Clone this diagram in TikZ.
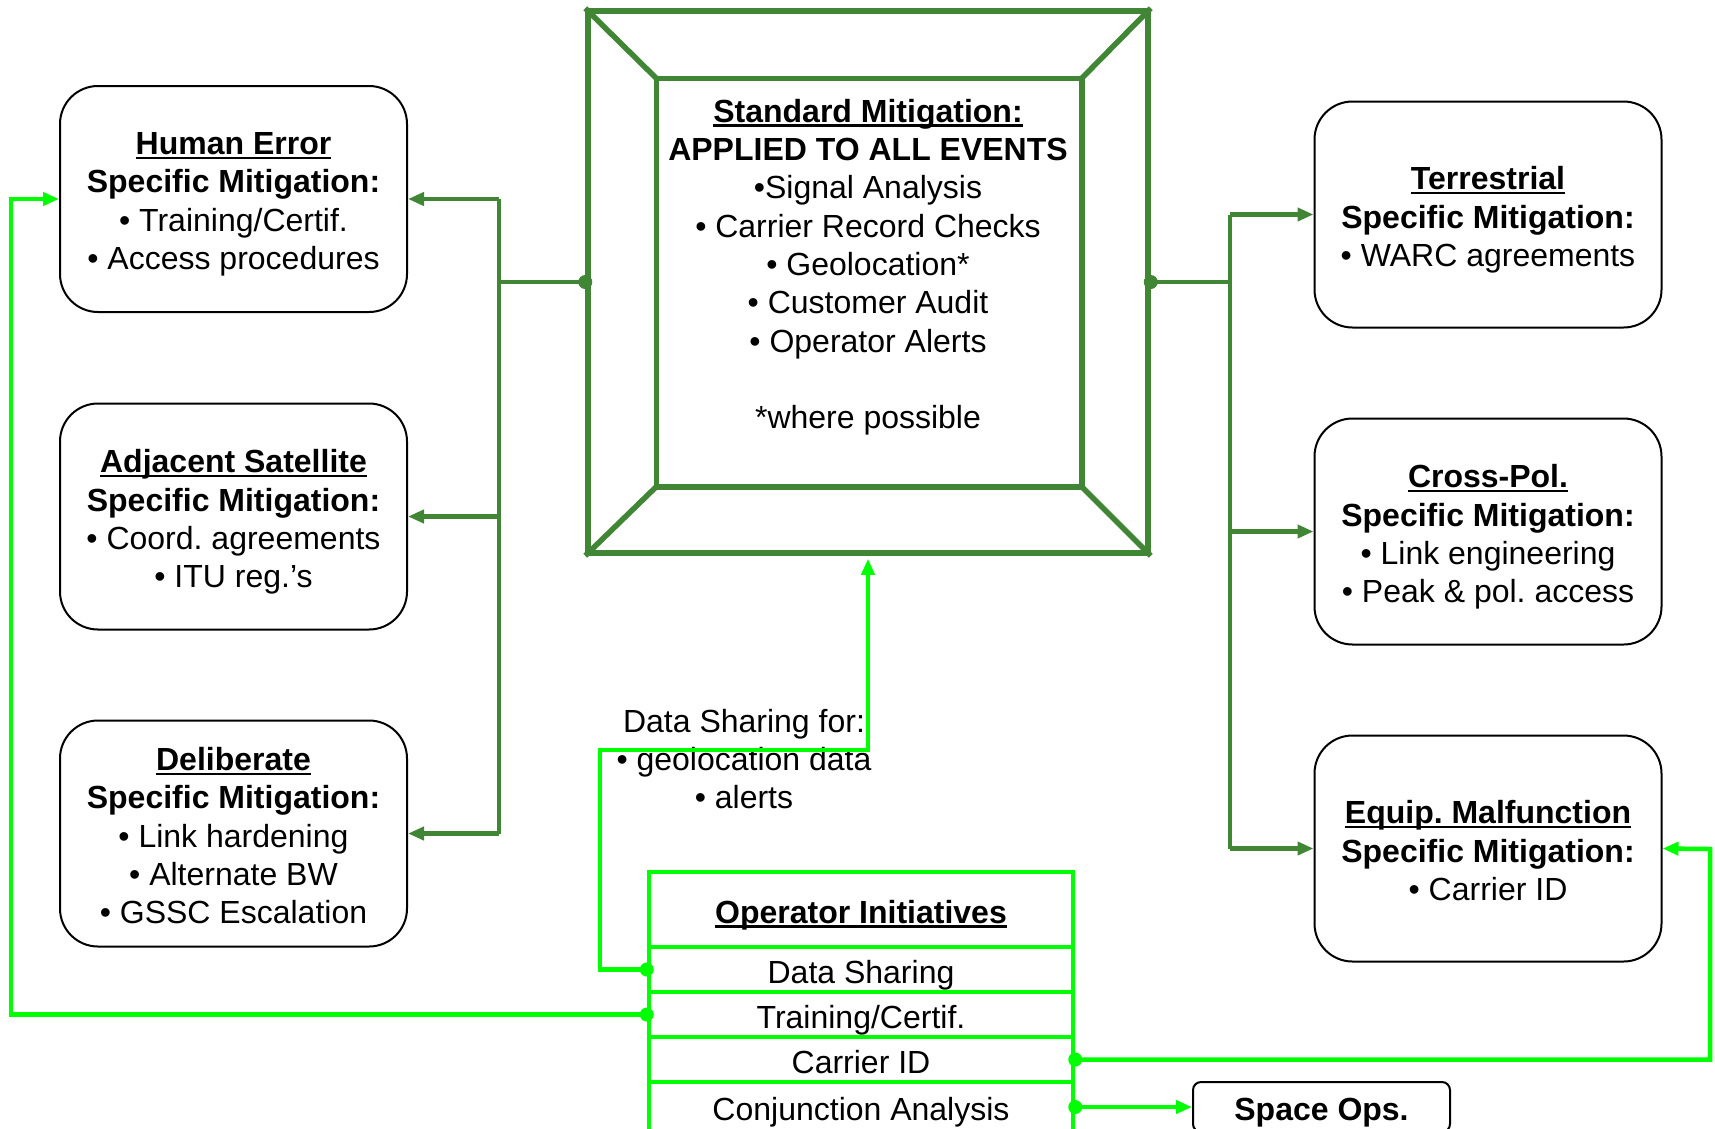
\documentclass[tikz,border=0pt]{standalone}
\usepackage{fontspec}
\setmainfont{Liberation Sans}
\usetikzlibrary{arrows.meta,calc}
\definecolor{dkg}{RGB}{64,134,52}
\definecolor{brg}{RGB}{0,255,0}
\frenchspacing
\newcommand\hdr[1]{\setbox0\hbox{#1}\rlap{\raisebox{-4.5pt}{\rule{\wd0}{2.6pt}}}\box0}
\newcommand\dpfix{\rule[-9pt]{0pt}{9pt}}
\tikzset{
  txtfont/.style={font=\fontsize{32}{38.3}\selectfont},
  mitbox/.style={draw=black, line width=2pt, rounded corners=38pt, minimum width=347pt,
    minimum height=226pt, inner sep=0pt},
  plain/.style={align=center, inner sep=0pt, txtfont},
  mittext/.style={plain, yshift=-6.6pt},
  onerow/.style={text height=27pt, text depth=0pt},
  oirow/.style={draw=brg, line width=4.5pt, minimum width=424pt, inner sep=0pt, txtfont, onerow},
  dkline/.style={draw=dkg, line width=4.5pt},
  dkarrow/.style={draw=dkg, line width=4.5pt, -{Triangle[length=16pt,width=13pt]}},
  brline/.style={draw=brg, line width=4.5pt},
  brarrow/.style={draw=brg, line width=4.5pt, -{Triangle[length=16pt,width=13pt]}},
  dkdot/.style={fill=dkg},
  brdot/.style={fill=brg},
}
\begin{document}
\begin{tikzpicture}[x=1pt,y=-1pt]
\useasboundingbox (0,0) rectangle (1715,1128);

% central standard mitigation frame
\node[draw=dkg, line width=5.5pt, minimum width=560pt, minimum height=542pt, inner sep=0pt] (std) at (868,282) {};
\coordinate (iTL) at ($(std.north west)+(71,70)$);
\coordinate (iTR) at ($(std.north east)+(-69,70)$);
\coordinate (iBL) at ($(std.south west)+(71,-69)$);
\coordinate (iBR) at ($(std.south east)+(-69,-69)$);
\draw[draw=dkg, line width=5.5pt, line join=miter] (iTL) rectangle (iBR);
\draw[draw=dkg, line width=5.5pt] (std.north west) -- (iTL) (std.north east) -- (iTR)
  (std.south west) -- (iBL) (std.south east) -- (iBR);
\node[plain, yshift=-5.2pt] (stdtxt) at (868,262) {\textbf{\hdr{Standard Mitigation:}}\\ \textbf{APPLIED TO ALL EVENTS}\\ •Signal Analysis\\ • Carrier Record Checks\\ • Geolocation*\\ • Customer Audit\\ • Operator Alerts\\[38.3pt] *where possible};

% left boxes
\node[mitbox] (he) at (233.5,199) {};
\node[mittext] (hetxt) at (he.center) {\textbf{\hdr{Human Error}}\\ \textbf{Specific Mitigation:}\\ • Training/Certif.\\ • Access procedures\dpfix};
\node[mitbox] (adj) at (233.5,516.5) {};
\node[mittext] (adjtxt) at (adj.center) {\textbf{\hdr{Adjacent Satellite}}\\ \textbf{Specific Mitigation:}\\ • Coord. agreements\\ • ITU reg.’s\dpfix};
\node[mitbox] (del) at (233.5,833.5) {};
\node[mittext] (deltxt) at (del.center) {\textbf{\hdr{Deliberate}}\\ \textbf{Specific Mitigation:}\\ • Link hardening\\ • Alternate BW\\ • GSSC Escalation\dpfix};

% right boxes
\node[mitbox] (ter) at (1488,214.5) {};
\node[mittext] (tertxt) at (ter.center) {\textbf{\hdr{Terrestrial}}\\ \textbf{Specific Mitigation:}\\ • WARC agreements\dpfix};
\node[mitbox] (xp) at (1488,531.5) {};
\node[mittext] (xptxt) at (xp.center) {\textbf{\hdr{Cross-Pol.}}\\ \textbf{Specific Mitigation:}\\ • Link engineering\\ • Peak \& pol. access\dpfix};
\node[mitbox] (eq) at (1488,848.5) {};
\node[mittext] (eqtxt) at (eq.center) {\textbf{\hdr{Equip. Malfunction}}\\ \textbf{Specific Mitigation:}\\ • Carrier ID\dpfix};

% operator initiatives table
\node[oirow, minimum height=75pt] (oih) at (861,909.5) {\textbf{\hdr{Operator Initiatives}}};
\node[oirow, minimum height=45pt] (ds) at (861,969.5) {Data Sharing};
\node[oirow, minimum height=45pt] (tr) at (861,1014.5) {Training/Certif.};
\node[oirow, minimum height=45pt] (cid) at (861,1059.5) {Carrier ID};
\node[oirow, minimum height=50pt] (ca) at (861,1107) {Conjunction Analysis};

% space ops
\node[draw=black, line width=2pt, rounded corners=8pt, minimum width=257pt, minimum height=50pt, inner sep=0pt, txtfont, onerow] (sops) at (1321.5,1107) {\textbf{Space Ops.}};

% dark green connectors
\coordinate (lbus) at (499,0);
\coordinate (rbus) at (1230,0);
\draw[dkline] (std.west) -- (std.west -| lbus);
\draw[dkline] (lbus |- he.east) -- (lbus |- del.east);
\draw[dkarrow] (lbus |- he.east) -- (he.east);
\draw[dkarrow] (lbus |- adj.east) -- (adj.east);
\draw[dkarrow] (lbus |- del.east) -- (del.east);
\draw[dkline] (std.east) -- (std.east -| rbus);
\draw[dkline] (rbus |- ter.west) -- (rbus |- eq.west);
\draw[dkarrow] (rbus |- ter.west) -- (ter.west);
\draw[dkarrow] (rbus |- xp.west) -- (xp.west);
\draw[dkarrow] (rbus |- eq.west) -- (eq.west);
\fill[dkdot] (std.west) circle (7);
\fill[dkdot] (std.east) circle (7);

% data sharing label
\node[plain] (dslab) at (744,759) {Data Sharing for:\\ • geolocation data\\ • alerts};

% bright green connectors
\coordinate (dsA) at (600,750);
\coordinate (trA) at (11,199);
\coordinate (cidA) at (1710,849);
\draw[brarrow, shorten >=3pt] (ds.west) -| (dsA) -| (std.south);
\draw[brarrow] (tr.west) -| (trA) -- (he.west);
\draw[brarrow] (cid.east) -| (cidA) -- (eq.east);
\draw[brarrow] (ca.east) -- (sops.west);
\fill[brdot] (ds.west) circle (7);
\fill[brdot] (tr.west) circle (7);
\fill[brdot] (cid.east) circle (7);
\fill[brdot] (ca.east) circle (7);
\end{tikzpicture}
\end{document}
